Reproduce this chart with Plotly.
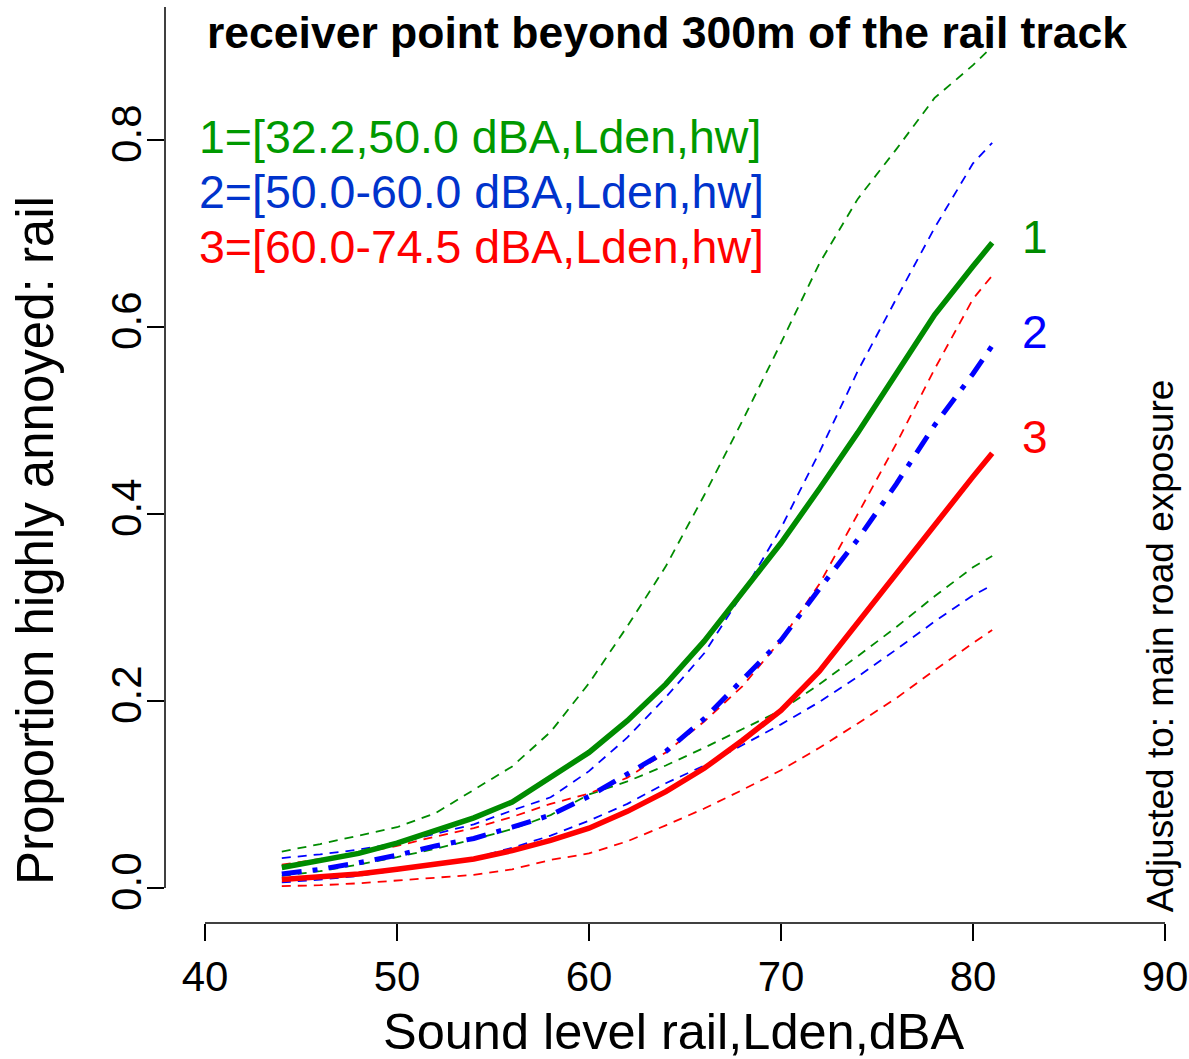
import plotly.graph_objects as go

# ---- data ----
x_level = [44, 46, 48, 50, 52, 54, 56, 58, 60, 62, 64, 66, 68, 70, 72, 74, 76, 78, 80, 81]

g1_mid = [0.022, 0.030, 0.037, 0.048, 0.062, 0.075, 0.092, 0.118, 0.145, 0.179, 0.218, 0.264, 0.317, 0.369, 0.427, 0.487, 0.550, 0.613, 0.665, 0.690]
g1_up  = [0.039, 0.047, 0.056, 0.065, 0.080, 0.105, 0.130, 0.167, 0.219, 0.280, 0.344, 0.420, 0.500, 0.583, 0.668, 0.737, 0.790, 0.845, 0.880, 0.900]
g1_lo  = [0.013, 0.018, 0.025, 0.033, 0.042, 0.052, 0.063, 0.078, 0.100, 0.114, 0.131, 0.150, 0.170, 0.190, 0.218, 0.248, 0.279, 0.312, 0.343, 0.355]

g2_mid = [0.015, 0.020, 0.027, 0.035, 0.045, 0.053, 0.065, 0.078, 0.098, 0.122, 0.146, 0.181, 0.223, 0.265, 0.320, 0.373, 0.432, 0.495, 0.550, 0.580]
g2_up  = [0.032, 0.036, 0.041, 0.048, 0.058, 0.068, 0.083, 0.097, 0.125, 0.161, 0.204, 0.251, 0.315, 0.385, 0.466, 0.553, 0.630, 0.706, 0.775, 0.797]
g2_lo  = [0.006, 0.009, 0.013, 0.019, 0.026, 0.032, 0.043, 0.056, 0.072, 0.090, 0.112, 0.131, 0.153, 0.175, 0.199, 0.226, 0.255, 0.285, 0.313, 0.324]

g3_mid = [0.009, 0.012, 0.015, 0.020, 0.025, 0.031, 0.040, 0.051, 0.064, 0.082, 0.103, 0.128, 0.158, 0.190, 0.232, 0.284, 0.338, 0.390, 0.440, 0.465]
g3_up  = [0.025, 0.031, 0.037, 0.045, 0.055, 0.064, 0.076, 0.090, 0.101, 0.118, 0.145, 0.178, 0.216, 0.265, 0.325, 0.400, 0.475, 0.555, 0.630, 0.655]
g3_lo  = [0.002, 0.003, 0.005, 0.008, 0.011, 0.014, 0.020, 0.030, 0.037, 0.050, 0.067, 0.085, 0.105, 0.126, 0.150, 0.176, 0.203, 0.233, 0.262, 0.276]

x_ticks = [40, 50, 60, 70, 80, 90]
y_ticks = [0.0, 0.2, 0.4, 0.6, 0.8]
y_tick_text = ["0.0", "0.2", "0.4", "0.6", "0.8"]

legend_lines = ["1=[32.2,50.0 dBA,Lden,hw]", "2=[50.0-60.0 dBA,Lden,hw]", "3=[60.0-74.5 dBA,Lden,hw]"]
curve_labels = ["1", "2", "3"]

GREEN = "#008B00"
BLUE = "#0000FF"
RED = "#FF0000"
LEG_COL = ["#009900", "#0033CC", "#FF0000"]
FONT = "Liberation Sans, Arial, sans-serif"

fig = go.Figure()

def dashed(y, col):
    fig.add_trace(go.Scatter(x=x_level, y=y, mode="lines",
                             line=dict(color=col, width=1.8, dash="9px,7px"),
                             showlegend=False, hoverinfo="skip"))

for y, c in [(g1_up, GREEN), (g1_lo, GREEN), (g2_up, BLUE), (g2_lo, BLUE), (g3_up, RED), (g3_lo, RED)]:
    dashed(y, c)

fig.add_trace(go.Scatter(x=x_level, y=g1_mid, mode="lines",
                         line=dict(color=GREEN, width=5.5), showlegend=False))
fig.add_trace(go.Scatter(x=x_level, y=g2_mid, mode="lines",
                         line=dict(color=BLUE, width=5, dash="20px,11px,5px,11px"), showlegend=False))
fig.add_trace(go.Scatter(x=x_level, y=g3_mid, mode="lines",
                         line=dict(color=RED, width=5.5), showlegend=False))

x_lo = 40 - 40 / 19.2
y_lo = -35 / 935
y_hi = 881 / 935

fig.update_layout(
    width=1189, height=1059,
    margin=dict(l=165, r=24, t=7, b=136, autoexpand=False),
    paper_bgcolor="white", plot_bgcolor="white",
    font=dict(family=FONT, color="black"),
    xaxis=dict(range=[x_lo, 90], tickvals=x_ticks, ticks="outside", ticklen=17,
               tickwidth=1.5, tickcolor="black", showline=False, showgrid=False,
               zeroline=False, automargin=False, tickfont=dict(size=42, family=FONT)),
    yaxis=dict(range=[y_lo, y_hi], tickvals=y_ticks, ticktext=y_tick_text,
               ticks="outside", ticklen=17, tickwidth=1.5, tickcolor="black",
               tickangle=-90, showline=False, showgrid=False, zeroline=False,
               automargin=False, ticklabelstandoff=-11,
               tickfont=dict(size=42, family=FONT)),
    shapes=[
        dict(type="line", xref="x", yref="paper", x0=40, x1=90, y0=0, y1=0,
             line=dict(color="black", width=1.5)),
        dict(type="line", xref="paper", yref="y", x0=0, x1=0, y0=0, y1=y_hi,
             line=dict(color="black", width=1.5)),
    ],
)

ann = []
ann.append(dict(text="<b>receiver point beyond 300m of the rail track</b>", xref="paper", yref="paper",
                x=0.502, y=0.9727, xanchor="center", yanchor="middle", showarrow=False,
                font=dict(size=44.5, family=FONT, color="black")))
for i, (t, yy) in enumerate(zip(legend_lines, [0.858, 0.798, 0.738])):
    ann.append(dict(text=t, xref="paper", yref="paper", x=0.032, y=yy, xanchor="left",
                    yanchor="middle", showarrow=False,
                    font=dict(size=46.5, family=FONT, color=LEG_COL[i])))
for t, yy, c in zip(curve_labels, [0.749, 0.645, 0.531], [GREEN, BLUE, RED]):
    ann.append(dict(text=t, xref="paper", yref="paper", x=0.87, y=yy, xanchor="center",
                    yanchor="middle", showarrow=False, font=dict(size=46, family=FONT, color=c)))
ann.append(dict(text="Adjusted to: main road exposure", xref="paper", yref="paper",
                x=0.995, y=0.302, xanchor="center", yanchor="middle", textangle=-90,
                showarrow=False, font=dict(size=37, family=FONT, color="black")))
ann.append(dict(text="Proportion highly annoyed: rail", xref="paper", yref="paper",
                x=-0.13, y=0.417, xanchor="center", yanchor="middle", textangle=-90,
                showarrow=False, font=dict(size=51, family=FONT, color="black")))
ann.append(dict(text="Sound level rail,Lden,dBA", xref="paper", yref="paper",
                x=0.508, y=-0.118, xanchor="center", yanchor="middle",
                showarrow=False, font=dict(size=50.5, family=FONT, color="black")))
fig.update_layout(annotations=ann)

fig.write_html("out.html")
